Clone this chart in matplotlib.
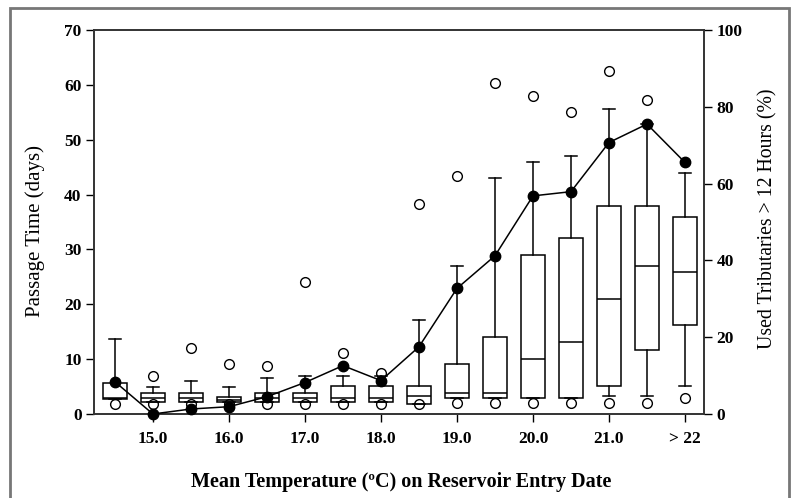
import matplotlib
matplotlib.use("Agg")
import matplotlib.pyplot as plt
from matplotlib.patches import Rectangle

# categories: temperature bins (0.5 C steps), last bin is > 22
positions = list(range(16))
tickPositions = [1, 3, 5, 7, 9, 11, 13, 15]
tickLabels = ["15.0", "16.0", "17.0", "18.0", "19.0", "20.0", "21.0", "> 22"]

# passage time box stats (days)
q1 = [2.7, 2.1, 2.1, 2.1, 2.1, 2.1, 2.1, 2.1, 1.9, 3.0, 3.0, 3.0, 3.0, 5.1, 11.7, 16.2]
med = [3.0, 2.9, 2.9, 2.6, 3.0, 2.9, 2.9, 2.9, 3.2, 3.9, 3.9, 10.0, 13.2, 21.0, 27.0, 25.9]
q3 = [5.6, 3.9, 3.9, 3.1, 3.9, 3.9, 5.1, 5.1, 5.1, 9.05, 14.0, 28.9, 32.0, 38.0, 38.0, 36.0]
whisLow = [2.7, 2.1, 2.1, 2.1, 2.1, 2.1, 2.1, 2.1, 1.9, 3.0, 3.0, 3.0, 3.0, 3.2, 3.2, 5.1]
whisHigh = [13.6, 5.0, 6.0, 4.9, 6.6, 7.0, 7.0, 7.0, 17.1, 27.0, 43.0, 46.0, 47.1, 55.6, 52.9, 44.0]
outliers = [
    [1.9], [1.9, 6.9], [1.9, 12.0], [1.9, 9.2], [1.9, 8.75], [1.9, 24.1],
    [1.9, 11.1], [1.9, 7.5], [1.9, 38.3], [2.0, 43.4], [2.0, 60.4],
    [2.0, 58.0], [2.0, 55.0], [1.95, 62.5], [1.95, 57.2], [2.9],
]

# percent that used tributaries > 12 hours
usedTrib = [8.4, 0.0, 1.3, 1.9, 4.5, 8.2, 12.6, 8.7, 17.5, 32.7, 41.2, 56.8, 57.9, 70.7, 75.5, 65.5]

plt.rcParams['font.family'] = ['Liberation Serif', 'DejaVu Serif']

fig = plt.figure(figsize=(7.92, 4.98), dpi=100)
ax = fig.add_axes([94 / 792, 1 - 414 / 498, 610 / 792, 384 / 498])

stats = []
for i in positions:
    stats.append({"q1": q1[i], "med": med[i], "q3": q3[i],
                  "whislo": whisLow[i], "whishi": whisHigh[i], "fliers": outliers[i]})

lineStyle = dict(color="black", linewidth=1.1)
ax.bxp(stats, positions=positions, widths=0.62, capwidths=0.33,
       showfliers=True, patch_artist=True,
       boxprops=dict(facecolor="white", edgecolor="black", linewidth=1.1),
       medianprops=lineStyle, whiskerprops=lineStyle, capprops=lineStyle,
       flierprops=dict(marker="o", markerfacecolor="none", markeredgecolor="black",
                       markersize=7, markeredgewidth=1.0))

ax.set_xlim(-0.55, 15.5)
ax.set_ylim(0, 70)
ax.set_yticks(range(0, 71, 10))
ax.set_xticks(tickPositions)
ax.set_xticklabels(tickLabels)
ax.set_ylabel("Passage Time (days)", fontsize=15)
ax.yaxis.set_label_coords(-0.0803, 0.4766)
ax.set_xlabel("Mean Temperature (ºC) on Reservoir Entry Date", fontsize=14.5,
              fontweight="bold")
ax.xaxis.set_label_coords(0.503, -0.150)

ax2 = ax.twinx()
ax2.plot(positions, usedTrib, color="black", linewidth=1.1, marker="o",
         markersize=7.5, markerfacecolor="black", clip_on=False, zorder=5)
ax2.set_ylim(0, 100)
ax2.set_yticks(range(0, 101, 20))
ax2.set_ylabel("Used Tributaries > 12 Hours (%)", fontsize=14.2)
ax2.yaxis.set_label_coords(1.089, 0.508)

for a in (ax, ax2):
    a.tick_params(direction="out", length=6, width=1, labelsize=12.5, pad=3)
    for lab in a.get_xticklabels() + a.get_yticklabels():
        lab.set_fontweight("bold")
    for sp in a.spines.values():
        sp.set_color("#333333")
        sp.set_linewidth(1.2)
ax.tick_params(axis="x", pad=6)

# grey frame round the whole picture
fig.add_artist(Rectangle((10 / 792, -0.05), 779 / 792, 1.05 - 8 / 498,
                         transform=fig.transFigure, fill=False,
                         edgecolor="#777777", linewidth=2))

fig.savefig("out.png", dpi=100)
